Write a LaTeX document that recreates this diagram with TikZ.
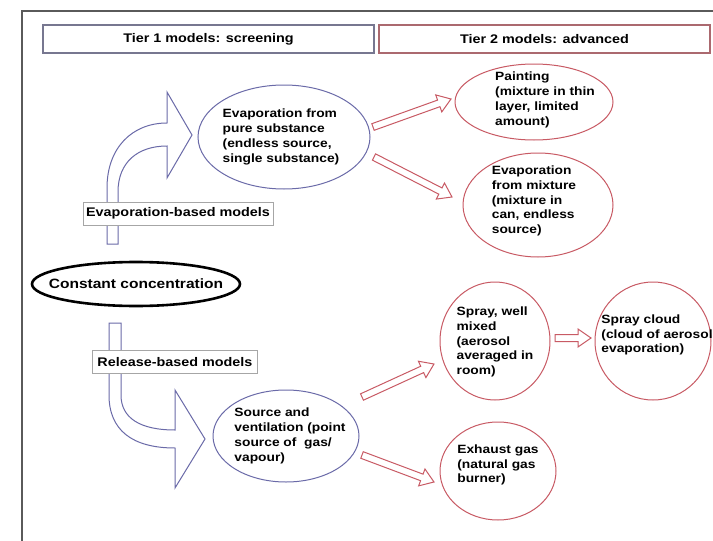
\documentclass[tikz,border=0pt]{standalone}
\usepackage{fontspec}
\setmainfont{Liberation Sans}[FakeStretch=1.15]
\usetikzlibrary{calc,shapes.geometric}
\definecolor{tblue}{HTML}{6A6AA8}
\definecolor{tred}{HTML}{C85A64}
\definecolor{framegray}{HTML}{5A5A5A}
\newcommand\hollowarrow[2]{%
  \path let \p1=($(#2)-(#1)$), \n1={veclen(\x1,\y1)}, \n2={atan2(\y1,\x1)} in
    \pgfextra{\xdef\harrlen{\n1}\xdef\harrang{\n2}};
  \begin{scope}[shift={(#1)}, rotate=\harrang]
    \draw[redarrow] (0pt,3.5pt) -- ({\harrlen*1pt-13pt},3.5pt) -- ({\harrlen*1pt-13pt},9pt)
      -- ({\harrlen*1pt},0pt) -- ({\harrlen*1pt-13pt},-9pt) -- ({\harrlen*1pt-13pt},-3.5pt)
      -- (0pt,-3.5pt) -- cycle;
  \end{scope}}
\begin{document}
\begin{tikzpicture}[x=1pt,y=-1pt,
  font=\bfseries\fontsize{12}{14.8}\selectfont,
  hdr/.style={draw=#1, line width=1.4pt, minimum width=331pt, minimum height=28pt,
    inner sep=0pt, font=\bfseries\fontsize{12.5}{15}\selectfont},
  ell/.style={ellipse, line width=1pt, fill=white, inner sep=0pt},
  blueell/.style={ell, draw=tblue},
  redell/.style={ell, draw=tred},
  txt/.style={align=left, inner sep=0pt, font=\bfseries\fontsize{12}{14.8}\selectfont},
  labbox/.style={draw=gray!70, line width=0.9pt, fill=white, inner sep=0pt,
    minimum height=23pt, font=\bfseries\fontsize{12.5}{15}\selectfont},
  bigarrow/.style={draw=tblue, line width=1pt, fill=white, line join=miter},
  redarrow/.style={draw=tred, line width=1pt, fill=white, line join=miter}]
\useasboundingbox (0,0) rectangle (713,541);
\fill[white] (0,0) rectangle (713,541);
% frame
\draw[framegray, line width=1.2pt] (22,541) -- (22,11) -- (713,11);
% headers
\node[hdr=gray!60!tblue] (t1) at (208.5,39) {Tier 1 models: screening};
\node[hdr=gray!40!tred] (t2) at (544.5,39) {Tier 2 models: advanced};
% big blue arrows
\draw[bigarrow] (107,244) -- (107,188) .. controls (107,148) and (132,123) .. (167,123)
  -- (167,92) -- (192,135) -- (167,178) -- (167,146)
  .. controls (138,146) and (118,162) .. (118,192) -- (118,244) -- cycle;
\draw[bigarrow] (109,323) -- (121,323) -- (121,395) .. controls (121,418) and (140,430) .. (175,430)
  -- (175,390) -- (205,439) -- (175,488) -- (175,448)
  .. controls (132,448) and (109,430) .. (109,395) -- cycle;
% labels on the arrows
\node[labbox, minimum width=190pt] (evlab) at (178,213.5) {Evaporation-based models};
\node[labbox, minimum width=165pt] (rellab) at (175,362) {Release-based models};
% central ellipse
\node[ellipse, draw=black, line width=2.6pt, minimum width=208pt, minimum height=44pt,
  inner sep=0pt, label={[inner sep=0pt, font=\bfseries\fontsize{13.5}{16}\selectfont]center:Constant concentration}]
  (const) at (136,284) {};
% tier 1 ellipses
\node[blueell, minimum width=172pt, minimum height=104pt,
  label={[txt, xshift=-3pt]center:{Evaporation from\\pure substance\\(endless source,\\single substance)}}]
  (evap) at (284,137) {};
\node[blueell, minimum width=146pt, minimum height=92pt,
  label={[txt, xshift=4pt]center:{Source and\\ventilation (point\\source of \ gas/\\vapour)}}]
  (source) at (286,436) {};
% tier 2 ellipses
\node[redell, minimum width=158pt, minimum height=76pt,
  label={[txt, xshift=11pt, yshift=2pt]center:{Painting\\(mixture in thin\\layer, limited\\amount)}}]
  (paint) at (534,102) {};
\node[redell, minimum width=150pt, minimum height=104pt,
  label={[txt, xshift=-4pt, yshift=4pt]center:{Evaporation\\from mixture\\(mixture in\\can, endless\\source)}}]
  (mix) at (538,205) {};
\node[redell, minimum width=110pt, minimum height=118pt,
  label={[txt, yshift=-1pt]center:{Spray, well\\mixed\\(aerosol\\averaged in\\room)}}]
  (spray) at (495,341) {};
\node[redell, minimum width=116pt, minimum height=118pt,
  label={[txt, xshift=4pt, yshift=6pt]center:{Spray cloud\\(cloud of aerosol\\evaporation)}}]
  (cloud) at (653,341) {};
\node[redell, minimum width=116pt, minimum height=98pt,
  label={[txt, yshift=6pt]center:{Exhaust gas\\(natural gas\\burner)}}]
  (exhaust) at (498,471) {};
% red arrow end points
\coordinate (a1s) at (373,127); \coordinate (a1e) at (451,99);
\coordinate (a2s) at (374,157); \coordinate (a2e) at (452,197);
\coordinate (a3s) at (362,397); \coordinate (a3e) at (434,364);
\coordinate (a4s) at (362,455); \coordinate (a4e) at (434,482);
\coordinate (a5s) at (555,338); \coordinate (a5e) at (591,338);
\hollowarrow{a1s}{a1e}
\hollowarrow{a2s}{a2e}
\hollowarrow{a3s}{a3e}
\hollowarrow{a4s}{a4e}
\hollowarrow{a5s}{a5e}
\end{tikzpicture}
\end{document}
